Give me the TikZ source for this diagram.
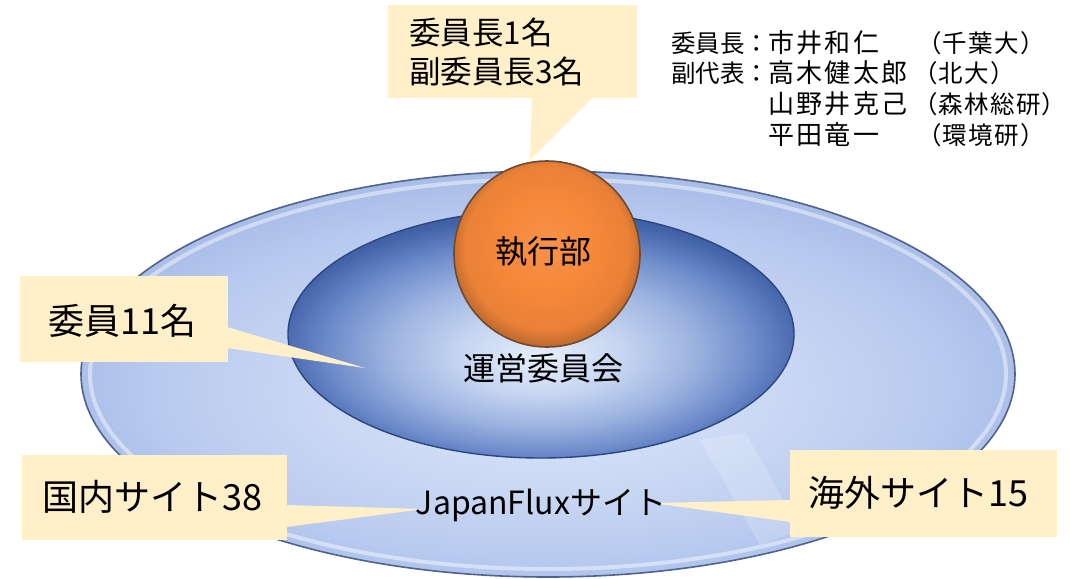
\documentclass[tikz,border=0pt]{standalone}
\usepackage{fontspec}
\setmainfont{Noto Sans CJK JP}
\newfontfamily\namefont{Noto Sans CJK JP}[LetterSpace=9]
\newfontfamily\afffont{Noto Sans CJK JP}[LetterSpace=5]
\usetikzlibrary{calc}
\definecolor{callout}{HTML}{FFF0C9}
\definecolor{outerline}{HTML}{50638C}
\definecolor{innerline}{HTML}{2B4682}
\definecolor{orangefill}{HTML}{F6883A}
\definecolor{orangeline}{HTML}{6E4A32}
\definecolor{oA}{HTML}{DDE7F9}
\definecolor{oB}{HTML}{CAD8F4}
\definecolor{oC}{HTML}{B8CAEF}
\definecolor{oD}{HTML}{A5BAE6}
\definecolor{iA}{HTML}{E6EEFA}
\definecolor{iB}{HTML}{C6D5F1}
\definecolor{iC}{HTML}{9DB4E0}
\definecolor{iD}{HTML}{6E8CCB}
\definecolor{iE}{HTML}{4464AA}
\definecolor{iF}{HTML}{33538F}
\pgfdeclareradialshading{outershade}{\pgfpoint{0bp}{-3bp}}{%
  color(0bp)=(oA);
  color(12bp)=(oB);
  color(21bp)=(oC);
  color(27bp)=(oD);
  color(50bp)=(oD)}
\pgfdeclareradialshading{innershade}{\pgfpoint{0bp}{-5bp}}{%
  color(0bp)=(iA);
  color(8bp)=(iB);
  color(15bp)=(iC);
  color(21bp)=(iD);
  color(26bp)=(iE);
  color(30bp)=(iF);
  color(50bp)=(iF)}
\pgfdeclareradialshading{orangeshade}{\pgfpoint{0bp}{3bp}}{%
  color(0bp)=(orangefill!92!white);
  color(12bp)=(orangefill);
  color(22bp)=(orangefill!95!black);
  color(26bp)=(orangefill!78!black);
  color(50bp)=(orangefill!78!black)}
\tikzset{
  callbox/.style={fill=callout, inner sep=0pt, anchor=north west},
  calltip/.style={fill=callout},
  txtA/.style={font=\fontsize{31.5}{39}\selectfont, text=black, inner sep=0pt},
  txtB/.style={font=\fontsize{36}{40}\selectfont, text=black, inner sep=0pt},
  txtC/.style={font=\fontsize{32}{38}\selectfont, text=black, inner sep=0pt},
  listtxt/.style={font=\fontsize{24.5}{30}\selectfont, text=black, inner sep=0pt, anchor=west},
  nametxt/.style={font=\fontsize{26}{30}\namefont, text=black, inner sep=0pt, anchor=west},
  afftxt/.style={font=\fontsize{24.5}{30}\afffont, text=black, inner sep=0pt, anchor=west},
}
\begin{document}
\begin{tikzpicture}[x=1pt,y=-1pt]
\useasboundingbox (0,0) rectangle (1070,578);
% outer ellipse (JapanFlux sites)
\path[shading=outershade, draw=outerline, line width=1.6pt]
  (548,374) ellipse [x radius=467, y radius=203];
\draw[white, opacity=0.45, line width=4pt]
  (548,374) ellipse [x radius=458, y radius=195];
% light reflection band
\fill[white, opacity=0.18] (700,440) -- (745,432) -- (800,530) -- (760,545) -- cycle;
% inner ellipse (steering committee)
\path[shading=innershade, draw=innerline, line width=1.4pt]
  (541,334) ellipse [x radius=253, y radius=124];
% executive circle
\path[shading=orangeshade, draw=orangeline, line width=1.6pt]
  (547,254) circle [radius=93];

% callout 1
\node[callbox, minimum width=249pt, minimum height=93pt] (c1) at (388,5) {};
\coordinate (t1) at (530,160);
\fill[calltip] (532,97) -- (593,97) -- (t1) -- cycle;
\node[txtA, anchor=west] (c1a) at (409,33) {委員長1名};
\node[txtA, anchor=west] (c1b) at (409,72) {副委員長3名};

% callout 2
\node[callbox, minimum width=208pt, minimum height=86pt] (c2) at (20,276) {};
\coordinate (t2) at (365,368);
\fill[calltip] (227,327) -- (t2) -- (227,348) -- cycle;
\node[txtB, anchor=west] (c2t) at (48,321) {委員11名};

% callout 3
\node[callbox, minimum width=265pt, minimum height=85pt] (c3) at (22,455) {};
\coordinate (t3) at (424,509);
\fill[calltip] (286,505) -- (t3) -- (286,527) -- cycle;
\node[txtB, anchor=west] (c3t) at (42,497) {国内サイト38};

% callout 4
\node[callbox, minimum width=267pt, minimum height=87pt] (c4) at (790,450) {};
\coordinate (t4) at (652,503);
\fill[calltip] (791,500) -- (t4) -- (791,522) -- cycle;
\node[txtB, anchor=west] (c4t) at (808,493) {海外サイト15};

% labels in the diagram
\node[txtC] (exec) at (543,252) {執行部};
\node[txtC] (steer) at (543,368) {運営委員会};
\node[txtC] (jf) at (541,505) {JapanFluxサイト};

% member list
\node[listtxt] (l1a) at (671,43) {委員長：};
\node[nametxt] (l1b) at (768,43) {市井和仁};
\node[afftxt] (l1c) at (917,43) {（千葉大）};
\node[listtxt] (l2a) at (671,73) {副代表：};
\node[nametxt] (l2b) at (768,73) {高木健太郎};
\node[afftxt] (l2c) at (913,73) {（北大）};
\node[nametxt] (l3b) at (768,104) {山野井克己};
\node[afftxt] (l3c) at (913,104) {（森林総研）};
\node[nametxt] (l4b) at (768,135) {平田竜一};
\node[afftxt] (l4c) at (917,135) {（環境研）};
\end{tikzpicture}
\end{document}
